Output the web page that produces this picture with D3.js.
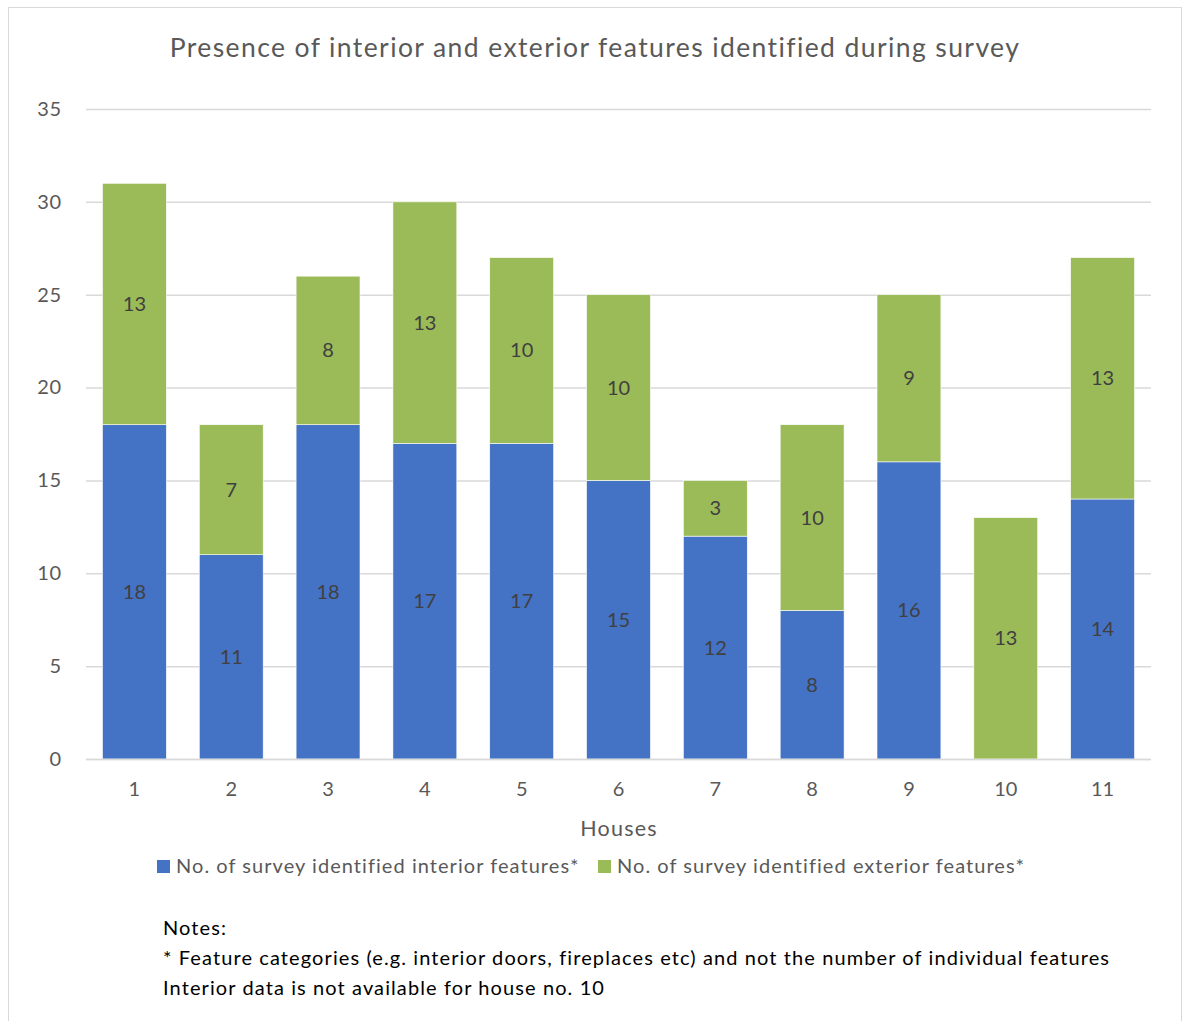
<!DOCTYPE html>
<html>
<head>
<meta charset="utf-8">
<script src="https://cdn.jsdelivr.net/npm/d3@7"></script>
<style>
  body { margin: 0; background: #fff; }
  svg { display: block; font-family: Lato, "Open Sans", sans-serif; }
</style>
</head>
<body>
<svg id="chart" width="1186" height="1021"></svg>
<script>
// Houses surveyed and feature counts per house
const houses = ["1", "2", "3", "4", "5", "6", "7", "8", "9", "10", "11"];
const interiorFeatures = [18, 11, 18, 17, 17, 15, 12, 8, 16, 0, 14];
const exteriorFeatures = [13, 7, 8, 13, 10, 10, 3, 10, 9, 13, 13];
const yTicks = [0, 5, 10, 15, 20, 25, 30, 35];
const seriesNames = ["No. of survey identified interior features*", "No. of survey identified exterior features*"];
const seriesColors = ["#4472c4", "#9bbb59"];
const notes = [
  "Notes:",
  "* Feature categories (e.g. interior doors, fireplaces etc) and not the number of individual features",
  "Interior data is not available for house no. 10"
];

const FONT = "Lato, 'Open Sans', sans-serif";
const svg = d3.select("#chart");
const plot = { left: 86, right: 1151, top: 109, bottom: 759 };

// outer chart frame
svg.append("rect")
  .attr("x", 8.5).attr("y", 7.5)
  .attr("width", 1173).attr("height", 1030)
  .attr("fill", "#fff").attr("stroke", "#d9d9d9").attr("stroke-width", 1);

const rows = houses.map((h, i) => ({ house: h, interior: interiorFeatures[i], exterior: exteriorFeatures[i] }));
const stack = d3.stack().keys(["interior", "exterior"])(rows);

const x = d3.scaleBand().domain(houses).range([plot.left, plot.right]).paddingInner(0.34).paddingOuter(0.17);
const y = d3.scaleLinear().domain([0, 35]).range([plot.bottom, plot.top]);

// title
svg.append("text")
  .attr("x", 595).attr("y", 57)
  .attr("text-anchor", "middle")
  .attr("font-size", 26.5)
  .attr("letter-spacing", 1.4)
  .attr("fill", "#595959")
  .text("Presence of interior and exterior features identified during survey");

// gridlines
svg.append("g").selectAll("line").data(yTicks).join("line")
  .attr("x1", plot.left).attr("x2", plot.right)
  .attr("y1", d => y(d) + 0.5).attr("y2", d => y(d) + 0.5)
  .attr("stroke", "#d9d9d9").attr("stroke-width", 1.5);

// y axis labels
const yAxis = d3.axisLeft(y).tickValues(yTicks).tickSize(0).tickPadding(24);
svg.append("g").attr("transform", `translate(${plot.left},0)`).call(yAxis)
  .call(g => g.select(".domain").remove())
  .call(g => g.selectAll("text").attr("font-size", 20).attr("letter-spacing", 0.8)
    .attr("fill", "#595959").attr("font-family", FONT));

// stacked bars
const layers = svg.append("g").selectAll("g").data(stack).join("g")
  .attr("fill", (d, i) => seriesColors[i]);
layers.selectAll("rect").data(d => d).join("rect")
  .attr("x", d => x(d.data.house))
  .attr("width", x.bandwidth())
  .attr("y", d => y(d[1]))
  .attr("height", d => y(d[0]) - y(d[1]))
  .attr("stroke", "#fff").attr("stroke-width", 0.6);

// value labels
layers.selectAll("text").data(d => d.filter(p => p[1] - p[0] > 0)).join("text")
  .attr("x", d => x(d.data.house) + x.bandwidth() / 2)
  .attr("y", d => y((d[0] + d[1]) / 2) + 7)
  .attr("text-anchor", "middle")
  .attr("font-size", 20)
  .attr("fill", "#404040")
  .text(d => d[1] - d[0]);

// baseline
svg.append("line")
  .attr("x1", plot.left).attr("x2", plot.right)
  .attr("y1", plot.bottom + 0.5).attr("y2", plot.bottom + 0.5)
  .attr("stroke", "#d9d9d9").attr("stroke-width", 1.5);

// x axis labels
const xAxis = d3.axisBottom(x).tickSize(0).tickPadding(23);
svg.append("g").attr("transform", `translate(0,${plot.bottom})`).call(xAxis)
  .call(g => g.select(".domain").remove())
  .call(g => g.selectAll("text").attr("font-size", 20).attr("fill", "#595959").attr("font-family", FONT));

svg.append("text")
  .attr("x", 619).attr("y", 836)
  .attr("text-anchor", "middle")
  .attr("font-size", 21.5).attr("letter-spacing", 1.2).attr("fill", "#595959")
  .text("Houses");

// legend
const legendX = [157, 598];
const legend = svg.append("g").selectAll("g").data(seriesNames).join("g")
  .attr("transform", (d, i) => `translate(${legendX[i]},860)`);
legend.append("rect").attr("width", 13).attr("height", 13).attr("fill", (d, i) => seriesColors[i]);
legend.append("text").attr("x", 19).attr("y", 13)
  .attr("font-size", 20).attr("letter-spacing", 1.05).attr("fill", "#595959").text(d => d);

// notes
svg.append("g").selectAll("text").data(notes).join("text")
  .attr("x", 163).attr("y", (d, i) => 935 + i * 30)
  .attr("font-size", 20).attr("letter-spacing", 1.1).attr("fill", "#000")
  .text(d => d);
</script>
</body>
</html>
